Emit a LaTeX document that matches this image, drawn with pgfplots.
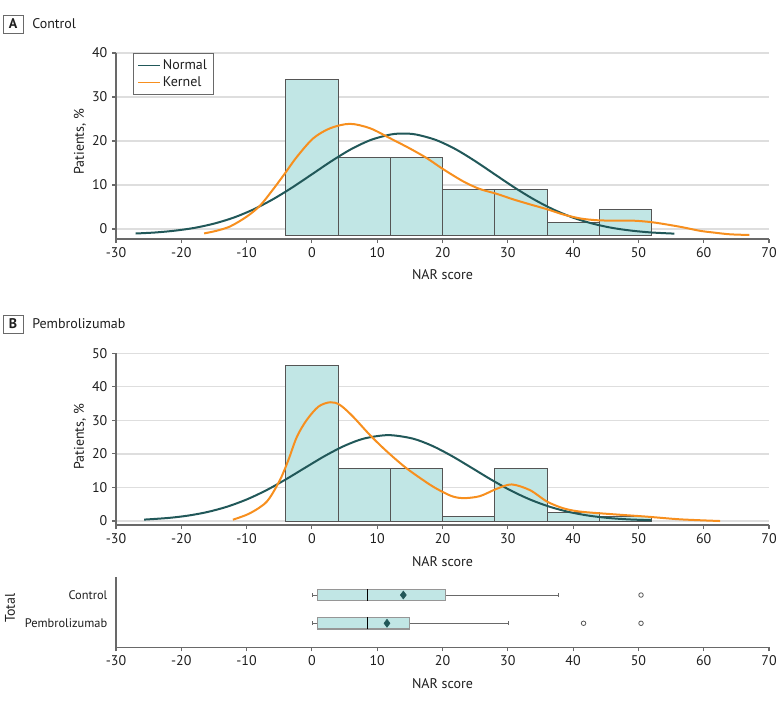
\documentclass[border=0pt]{standalone}
\usepackage{fontspec}
\setmainfont{PT Sans}
\usepackage{pgfplots}
\pgfplotsset{compat=1.18}
\usepgfplotslibrary{statistics}
\definecolor{barfill}{RGB}{193,230,229}
\definecolor{baredge}{RGB}{85,85,85}
\definecolor{normc}{RGB}{33,88,89}
\definecolor{kerc}{RGB}{247,143,30}
\definecolor{gridc}{RGB}{222,222,222}
\definecolor{axc}{RGB}{105,105,105}
\definecolor{txt}{RGB}{30,30,30}
\newcommand\histbar[4]{\addplot[fill=barfill, draw=baredge, line width=0.6pt, forget plot] coordinates {(#1,#3) (#1,#4) (#2,#4) (#2,#3)} --cycle;}
\newcommand\fs{\fontsize{10.5}{12}\selectfont}
\pgfplotsset{
  base/.style={scale only axis, width=489.75pt, xmin=-30, xmax=70,
    xtick={-30,-20,...,70},
    axis x line*=bottom, axis y line*=left,
    axis line style={axc, line width=1pt, -},
    tick style={axc, line width=0.8pt}, tick align=outside, major tick length=3pt,
    ticklabel style={font=\fs, text=txt},
    label style={font=\fs, text=txt},
    /pgf/number format/assume math mode=true,
    ymajorgrids, grid style={gridc, line width=1pt},
  },
}
\begin{document}
\begin{tikzpicture}
\useasboundingbox (0,0) rectangle (585pt,525.75pt);
% Panel titles
\draw[axc, line width=0.6pt] (2.25pt,{(701-15)*0.75pt}) rectangle (17.25pt,{(701-33)*0.75pt});
\node[font=\fs\bfseries, text=txt] at (9.75pt,{(701-24)*0.75pt}) {A};
\node[font=\fs, text=txt, anchor=west, inner sep=0pt] at (24pt,{(701-24)*0.75pt}) {Control};
\draw[axc, line width=0.6pt] (2.25pt,{(701-315)*0.75pt}) rectangle (17.25pt,{(701-333)*0.75pt});
\node[font=\fs\bfseries, text=txt] at (9.75pt,{(701-324)*0.75pt}) {B};
\node[font=\fs, text=txt, anchor=west, inner sep=0pt] at (24pt,{(701-324)*0.75pt}) {Pembrolizumab};

% Panel A
\begin{axis}[base, at={(87pt,346.5pt)}, anchor=south west, height=139.5pt,
  ymin=-2.27, ymax=40, ytick={0,10,...,40},
  xlabel={NAR score}, ylabel={Patients, \%},
  xlabel style={at={(axis description cs:0.5,-0.1935)}, anchor=center},
  ylabel style={at={(axis description cs:-0.0551,0.523)}, anchor=center, rotate=0},
  legend style={at={(axis description cs:0.0265,0.998)}, anchor=north west, draw=axc, font=\fs, text=txt, row sep=0pt, inner xsep=3pt, inner ysep=2.5pt},
  legend cell align=left,
  legend image code/.code={\draw[#1, line width=1pt] (0pt,0pt) -- (16pt,0pt);},
]
\histbar{-4}{4}{-1.4}{34.0}
\histbar{4}{12}{-1.4}{16.3}
\histbar{12}{20}{-1.4}{16.3}
\histbar{20}{28}{-1.4}{9.0}
\histbar{28}{36}{-1.4}{9.0}
\histbar{36}{44}{-1.4}{1.6}
\histbar{44}{52}{-1.4}{4.5}
\addplot[normc, line width=1.5pt, smooth] coordinates {
(-27,-1.02) (-24,-0.79) (-21,-0.38) (-18,0.25) (-15,1.22) (-12,2.58) (-9,4.42) (-6,6.73) (-3,9.45)
(0,12.43) (3,15.43) (6,18.14) (9,20.23) (12,21.46) (14,21.7) (16,21.46) (19,20.23) (22,18.14)
(25,15.43) (28,12.43) (31,9.45) (34,6.73) (37,4.42) (40,2.58) (43,1.22) (46,0.25) (49,-0.38)
(52,-0.79) (55.5,-1.05)};
\addlegendentry{Normal}
\addplot[kerc, line width=1.5pt, smooth] coordinates {
(-16.5,-1.0) (-14.6,-0.4) (-12.5,0.6) (-10,2.8) (-7.95,5.3) (-6,8.9) (-4.1,12.7) (-2.3,16.4)
(0.2,20.6) (2.8,22.9) (5.8,23.9) (8.9,22.9) (12,20.6) (15,18.3) (17.6,16.1) (20.1,13.6)
(23.2,10.8) (25.7,9.1) (28.3,8.0) (30.8,6.75) (33.4,5.6) (36,4.5) (38.5,3.3) (41.1,2.4) (43.6,2.0)
(46.2,1.9) (49.2,1.9) (52.3,1.5) (56.4,0.5) (59.4,-0.4) (61.5,-0.8) (64,-1.2) (67,-1.36)};
\addlegendentry{Kernel}
\end{axis}

% Panel B
\begin{axis}[base, at={(87pt,132pt)}, anchor=south west, height=128.8pt,
  ymin=-1.19, ymax=50, ytick={0,10,...,50},
  xlabel={NAR score}, ylabel={Patients, \%},
  xlabel style={at={(axis description cs:0.5,-0.2137)}, anchor=center},
  ylabel style={at={(axis description cs:-0.0551,0.514)}, anchor=center},
]
\histbar{-4}{4}{0}{46.3}
\histbar{4}{12}{0}{15.7}
\histbar{12}{20}{0}{15.7}
\histbar{20}{28}{0}{1.3}
\histbar{28}{36}{0}{15.7}
\histbar{36}{44}{0}{2.7}
\histbar{44}{52}{0}{1.3}
\addplot[normc, line width=1.5pt, smooth] coordinates {
(-25.7,0.42) (-22,0.91) (-19,1.60) (-16,2.68) (-13,4.26) (-10,6.41) (-7,9.15) (-4,12.40) (-1,15.93)
(2,19.41) (5,22.43) (8,24.59) (11.7,25.6) (15.4,24.59) (18.4,22.43) (21.4,19.41) (24.4,15.93)
(27.4,12.40) (30.4,9.15) (33.4,6.41) (36.4,4.26) (39.4,2.68) (42.4,1.60) (45.4,0.91) (48.4,0.49) (52,0.22)};
\addplot[kerc, line width=1.5pt, smooth] coordinates {
(-12.1,0.4) (-9.5,2.3) (-6.9,5.8) (-4.9,12.2) (-3.6,18.2) (-2.3,25.1) (-0.8,30.1) (1.0,34.1)
(2.8,35.4) (4.3,34.6) (6.3,31.1) (8.9,25.6) (11.5,20.7) (14.5,15.7) (18.1,10.8) (20.1,8.6)
(21.6,7.3) (23.2,6.8) (25.7,7.4) (28.3,9.6) (30.6,10.9) (33.4,9.2) (36,5.8) (38.5,3.8) (41.1,2.8)
(46.2,2.0) (51.3,1.3) (56.4,0.5) (62.5,0.0)};
\end{axis}

% Box plot
\begin{axis}[base, at={(87pt,40.3pt)}, anchor=south west, height=52.95pt,
  ymajorgrids=false,
  ymin=-0.85, ymax=1.65, ytick={0,1}, yticklabels={Pembrolizumab, Control},
  ytick style={draw=none},
  yticklabel style={font=\fontsize{9.3}{11}\selectfont},
  xlabel={NAR score}, ylabel={Total},
  xlabel style={at={(axis description cs:0.5,-0.51)}, anchor=center},
  ylabel style={at={(axis description cs:-0.1623,0.552)}, anchor=center},
  boxplot/draw direction=x,
  boxplot/box extend=0.41,
  boxplot/whisker extend=0.14,
  boxplot/every box/.style={fill=barfill, draw=axc!70, line width=0.9pt},
  boxplot/every whisker/.style={draw=axc, line width=0.6pt},
  boxplot/every median/.style={draw=black, line width=1.2pt},
]
\addplot[boxplot prepared={lower whisker=0, lower quartile=0.9, median=8.5, upper quartile=20.5, upper whisker=37.7, draw position=1}] coordinates {};
\addplot[boxplot prepared={lower whisker=0, lower quartile=0.9, median=8.5, upper quartile=14.9, upper whisker=30.1, draw position=0}] coordinates {};
\addplot[only marks, mark=diamond*, mark size=3pt, color=normc] coordinates {(14.0,1) (11.5,0)};
\addplot[only marks, mark=o, mark size=1.7pt, color=axc!80!black, line width=0.6pt] coordinates {(50.4,1) (41.6,0) (50.4,0)};
\end{axis}
\end{tikzpicture}
\end{document}
